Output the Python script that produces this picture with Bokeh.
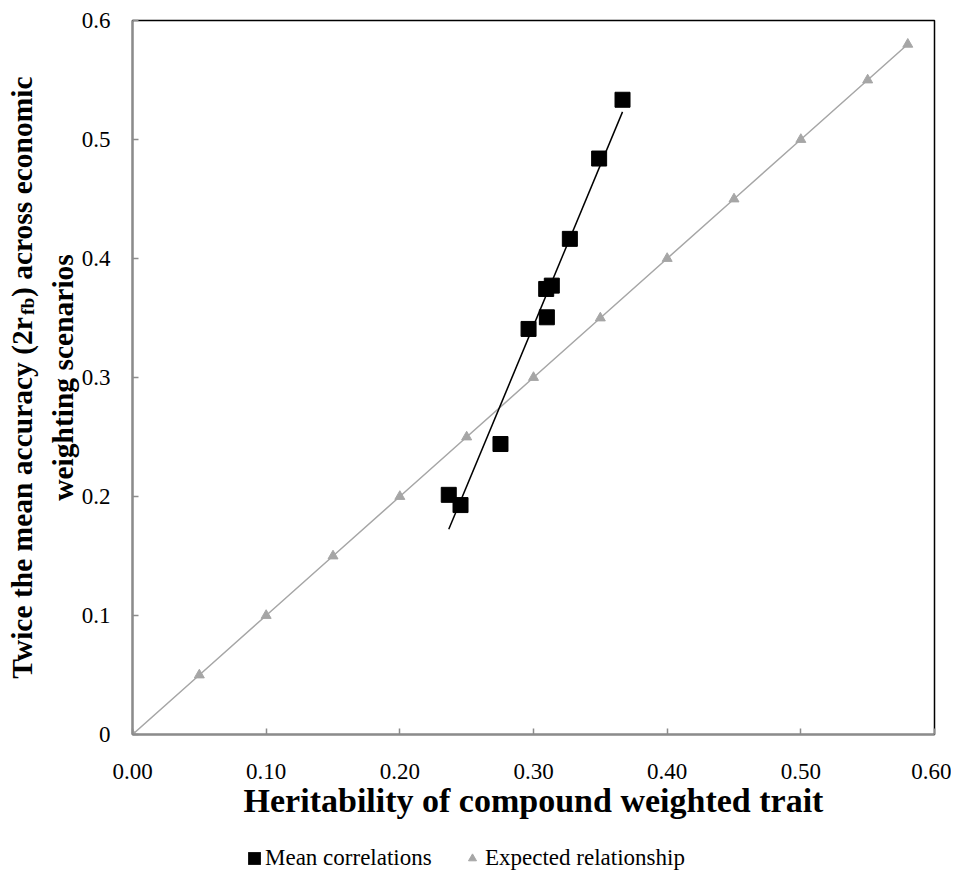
import numpy as np
from bokeh.plotting import figure
from bokeh.layouts import row, column
from bokeh.models import FixedTicker, Label, Legend, LegendItem, Range1d
from bokeh.embed import file_html
from bokeh.resources import INLINE

# ---------------- data ----------------
heritability = [0.2366, 0.2454, 0.2753, 0.2963, 0.3100, 0.3095, 0.3137, 0.3272, 0.3491, 0.3666]
twice_accuracy = [0.2014, 0.1928, 0.2441, 0.3408, 0.3506, 0.3744, 0.3772, 0.4165, 0.4840, 0.5334]

expected_x = [0.00, 0.05, 0.10, 0.15, 0.20, 0.25, 0.30, 0.35, 0.40, 0.45, 0.50, 0.55, 0.58]
expected_y = [0.00, 0.05, 0.10, 0.15, 0.20, 0.25, 0.30, 0.35, 0.40, 0.45, 0.50, 0.55, 0.58]

x_ticks = [0.0, 0.1, 0.2, 0.3, 0.4, 0.5, 0.6]
x_tick_labels = ["0.00", "0.10", "0.20", "0.30", "0.40", "0.50", "0.60"]
y_ticks = [0.0, 0.1, 0.2, 0.3, 0.4, 0.5, 0.6]
y_tick_labels = ["0", "0.1", "0.2", "0.3", "0.4", "0.5", "0.6"]

x_title = "Heritability of compound weighted trait"
y_title_a = "Twice the mean accuracy (2r"
y_title_sub = "fb"
y_title_c = ") across economic"
y_title_2 = "weighting scenarios"
legend_labels = ["Mean correlations", "Expected relationship"]

FONT = "Liberation Serif"
GRAY_AXIS = "#8c8c8c"
GRAY_SERIES = "#a6a6a6"

TITLE_W = 42
FRAME_W, FRAME_H = 802, 714
BORDER_L, BORDER_R, BORDER_T, BORDER_B = 90, 17, 20, 100
MAIN_H = BORDER_T + FRAME_H + BORDER_B
TOTAL_W = TITLE_W + BORDER_L + FRAME_W + BORDER_R
LEGEND_H = 44
FS = 29.5
FS_SUB = 19.5

# ---------------- main plot ----------------
p = figure(frame_width=FRAME_W, frame_height=FRAME_H,
           x_range=Range1d(0, 0.6), y_range=Range1d(0, 0.6),
           output_backend="svg", toolbar_location=None,
           min_border_left=BORDER_L, min_border_right=BORDER_R,
           min_border_top=BORDER_T, min_border_bottom=BORDER_B)

p.xgrid.grid_line_color = None
p.ygrid.grid_line_color = None
p.background_fill_color = "white"
p.border_fill_color = "white"
p.outline_line_color = "black"
p.outline_line_width = 1.5

for ax in (p.xaxis, p.yaxis):
    ax.axis_line_color = GRAY_AXIS
    ax.axis_line_width = 2
    ax.major_tick_line_color = GRAY_AXIS
    ax.major_tick_line_width = 1.5
    ax.major_tick_in = 6
    ax.major_tick_out = 0
    ax.minor_tick_line_color = None
    ax.major_label_text_font = FONT
    ax.major_label_text_font_size = "23px"
    ax.major_label_text_color = "black"

p.xaxis.ticker = FixedTicker(ticks=x_ticks)
p.xaxis.major_label_overrides = dict(zip(x_ticks, x_tick_labels))
p.yaxis.ticker = FixedTicker(ticks=y_ticks)
p.yaxis.major_label_overrides = dict(zip(y_ticks, y_tick_labels))
p.xaxis.major_label_standoff = 29
p.yaxis.major_label_standoff = 22

p.xaxis.axis_label = x_title
p.xaxis.axis_label_text_font = FONT
p.xaxis.axis_label_text_font_style = "bold"
p.xaxis.axis_label_text_font_size = "34px"
p.xaxis.axis_label_text_color = "black"
p.xaxis.axis_label_standoff = 0

p.yaxis.axis_label = y_title_2
p.yaxis.axis_label_text_font = FONT
p.yaxis.axis_label_text_font_style = "bold"
p.yaxis.axis_label_text_font_size = f"{FS}px"
p.yaxis.axis_label_text_color = "black"
p.yaxis.axis_label_standoff = 0

p.line(expected_x, expected_y, line_color=GRAY_SERIES, line_width=1.5)
p.scatter(expected_x, expected_y, marker="triangle", size=10,
          fill_color=GRAY_SERIES, line_color=GRAY_SERIES)

coef = np.polyfit(heritability, twice_accuracy, 1)
trend_x = [min(heritability), max(heritability)]
trend_y = list(np.polyval(coef, trend_x))
p.line(trend_x, trend_y, line_color="black", line_width=1.5)

p.scatter(heritability, twice_accuracy, marker="square", size=15,
          fill_color="black", line_color="black")

# ---------------- y-axis title, first line (with subscript) ----------------
tf = figure(width=TITLE_W, height=MAIN_H, x_range=Range1d(0, 1), y_range=Range1d(0, 1),
            x_axis_location=None, y_axis_location=None,
            min_border_left=0, min_border_right=0,
            min_border_top=BORDER_T, min_border_bottom=BORDER_B,
            output_backend="svg", toolbar_location=None)
tf.grid.visible = False
tf.outline_line_color = None
tf.background_fill_color = "white"
tf.border_fill_color = "white"

W_BOLD = {" ": 250, "(": 333, ")": 333, "2": 500, "T": 667, "a": 500, "b": 556, "c": 444,
          "d": 556, "e": 444, "f": 333, "g": 500, "h": 556, "i": 278, "m": 833, "n": 556,
          "o": 500, "r": 444, "s": 389, "t": 333, "u": 556, "w": 722, "y": 500}

def text_w(s, size):
    return sum(W_BOLD.get(ch, 500) for ch in s) / 1000.0 * size

wa = text_w(y_title_a, FS)
wb = text_w(y_title_sub, FS_SUB)
wc = text_w(y_title_c, FS)
center = FRAME_H / 2.0
y0 = center - (wa + wb + wc) / 2.0
line1_x = 21

common = dict(x_units="screen", y_units="screen", angle=np.pi / 2, angle_units="rad",
              text_font=FONT, text_font_style="bold", text_color="black",
              text_baseline="alphabetic")
tf.add_layout(Label(x=line1_x, y=y0, text=y_title_a, text_align="left",
                    text_font_size=f"{FS}px", **common))
tf.add_layout(Label(x=line1_x + 6, y=y0 + wa, text=y_title_sub, text_align="left",
                    text_font_size=f"{FS_SUB}px", **common))
tf.add_layout(Label(x=line1_x, y=y0 + wa + wb + 0.5, text=y_title_c, text_align="left",
                    text_font_size=f"{FS}px", **common))

# ---------------- legend panel ----------------
lf = figure(width=TOTAL_W, height=LEGEND_H, x_range=Range1d(0, 1), y_range=Range1d(0, 1),
            x_axis_location=None, y_axis_location=None, min_border=0,
            output_backend="svg", toolbar_location=None)
lf.grid.visible = False
lf.outline_line_color = None
lf.background_fill_color = "white"
lf.border_fill_color = "white"

# swatch renderers (hidden in this panel; only their legend glyphs are drawn)
sw_square = lf.varea(x=heritability, y1=twice_accuracy, y2=twice_accuracy,
                     fill_color="black", visible=False)
sw_tri = lf.scatter(expected_x, expected_y, marker="triangle",
                    fill_color=GRAY_SERIES, line_color=GRAY_SERIES, visible=False)

def make_legend(label, renderer, gsize, standoff, loc):
    lg = Legend(items=[LegendItem(label=label, renderers=[renderer], index=0)],
                location=loc, orientation="horizontal",
                glyph_width=gsize, glyph_height=gsize, label_standoff=standoff,
                padding=0, margin=0, spacing=0,
                border_line_color=None, background_fill_alpha=0,
                label_text_font=FONT, label_text_font_size="23px",
                label_text_color="black")
    lf.add_layout(lg)
    return lg

make_legend(legend_labels[0], sw_square, 16, 3, (246, 7))
make_legend(legend_labels[1], sw_tri, 20, 3, (462, 7))

layout = column(row(tf, p), lf)
open("out.html", "w").write(file_html(layout, INLINE))
